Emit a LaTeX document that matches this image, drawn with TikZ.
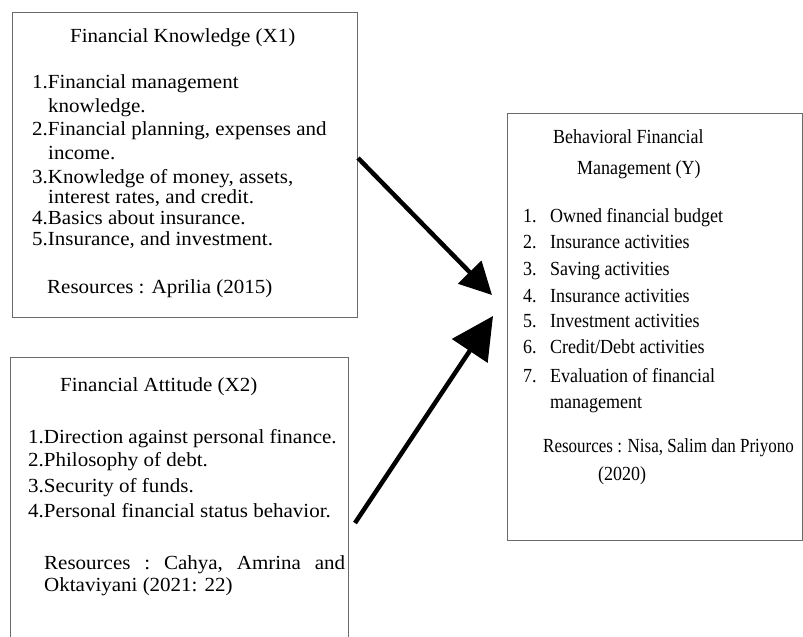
\documentclass[tikz,border=0pt]{standalone}
\usepackage{fontspec}
\setmainfont{Liberation Serif}
\newfontfamily\wideserif[FakeStretch=1.05]{Liberation Serif}
\newfontfamily\narrowserif[FakeStretch=0.9]{Liberation Serif}
\newfontfamily\tightserif[FakeStretch=0.85]{Liberation Serif}
\usetikzlibrary{arrows.meta}
\definecolor{bordergray}{HTML}{6A6A6A}
\tikzset{
  box/.style={draw=bordergray, line width=1.3pt, inner sep=0pt, anchor=north west, fill=none},
  ltxt/.style={anchor=base west, inner sep=0pt, text=black, font=\wideserif\fontsize{20}{24}\selectfont},
  rtxt/.style={anchor=base west, inner sep=0pt, text=black, font=\narrowserif\fontsize{20}{24}\selectfont},
  ttxt/.style={anchor=base west, inner sep=0pt, text=black, font=\tightserif\fontsize{20}{24}\selectfont},
  thickarrow/.style={line width=4.5pt, black},
}
\begin{document}
\begin{tikzpicture}[x=1pt,y=-1pt]
\clip (0,0) rectangle (803,637);
\fill[white] (0,0) rectangle (803,637);

% Boxes
\node[box, minimum width=345pt, minimum height=305pt] (kn) at (12,12) {};
\node[box, minimum width=338pt, minimum height=310pt] (at) at (10,357) {};
\node[box, minimum width=294.5pt, minimum height=427pt] (bf) at (507,113) {};

% Box 1 text
\node[ltxt] (k0) at (70,42.5) {Financial Knowledge (X1)};
\node[ltxt] (k1) at (32,88) {1.Financial management};
\node[ltxt] (k2) at (48,112) {knowledge.};
\node[ltxt] (k3) at (32,135) {2.Financial planning, expenses and};
\node[ltxt] (k4) at (48,159) {income.};
\node[ltxt] (k5) at (32,183) {3.Knowledge of money, assets,};
\node[ltxt] (k6) at (48,203) {interest rates, and credit.};
\node[ltxt] (k7) at (32,224) {4.Basics about insurance.};
\node[ltxt] (k8) at (32,245) {5.Insurance, and investment.};
\node[ltxt] (k9) at (47,293) {Resources : Aprilia (2015)};

% Box 2 text
\node[ltxt] (a0) at (60,391) {Financial Attitude (X2)};
\node[ltxt] (a1) at (28,443) {1.Direction against personal finance.};
\node[ltxt] (a2) at (28,466) {2.Philosophy of debt.};
\node[ltxt] (a3) at (28,492) {3.Security of funds.};
\node[ltxt] (a4) at (28,517) {4.Personal financial status behavior.};
\node[ltxt] (a5) at (44,569) {\hbox to 301pt{Resources\hfill:\hfill Cahya,\hfill Amrina\hfill and}};
\node[ltxt] (a6) at (44,591) {Oktaviyani (2021: 22)};

% Box 3 text
\node[rtxt] (b0) at (553,143) {Behavioral Financial};
\node[rtxt] (b1) at (577,174) {Management (Y)};
\node[rtxt] (n1) at (523,222) {1.};
\node[rtxt] (b2) at (550,222) {Owned financial budget};
\node[rtxt] (n2) at (523,248) {2.};
\node[rtxt] (b3) at (550,248) {Insurance activities};
\node[rtxt] (n3) at (523,275) {3.};
\node[rtxt] (b4) at (550,275) {Saving activities};
\node[rtxt] (n4) at (523,302) {4.};
\node[rtxt] (b5) at (550,302) {Insurance activities};
\node[rtxt] (n5) at (523,327) {5.};
\node[rtxt] (b6) at (550,327) {Investment activities};
\node[rtxt] (n6) at (523,353) {6.};
\node[rtxt] (b7) at (550,353) {Credit/Debt activities};
\node[rtxt] (n7) at (523,382) {7.};
\node[rtxt] (b8) at (550,382) {Evaluation of financial};
\node[rtxt] (b9) at (550,408) {management};
\node[ttxt] (b10) at (543,452) {Resources : Nisa, Salim dan Priyono};
\node[rtxt] (b11) at (598,480) {(2020)};

% Arrow endpoints
\coordinate (s1) at (358,158);
\coordinate (t1) at (492,295);
\coordinate (s2) at (355,523);
\coordinate (t2) at (493,316);

\draw[thickarrow, -{Triangle[length=32pt,width=32pt]}] (s1) -- (t1);
\draw[thickarrow, -{Triangle[length=42pt,width=42pt]}] (s2) -- (t2);
\end{tikzpicture}
\end{document}
